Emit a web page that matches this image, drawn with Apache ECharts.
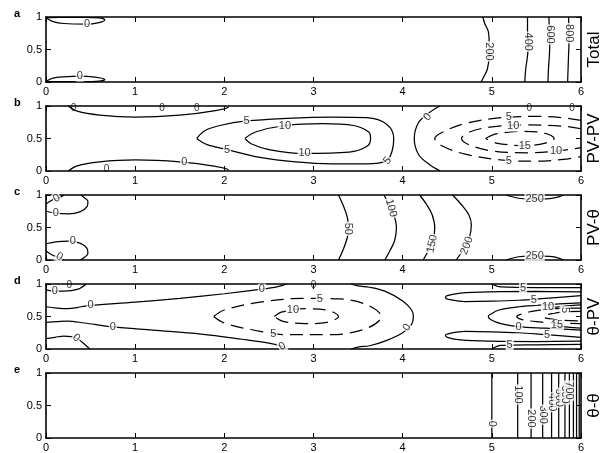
<!DOCTYPE html>
<html><head><meta charset="utf-8">
<script src="https://cdn.jsdelivr.net/npm/echarts@6/dist/echarts.min.js"></script>
<style>html,body{margin:0;padding:0;background:#fff}#c{width:604px;height:453px}</style>
</head><body><div id="c"></div>
<script>
// ---------- axis ticks ----------
const xTicks = [0, 1, 2, 3, 4, 5, 6];
const yTicks = [0, 0.5, 1];
const panelLetters = ['a', 'b', 'c', 'd', 'e'];
const panelNames = ['Total', 'PV-PV', 'PV-θ', 'θ-PV', 'θ-θ'];

// ---------- panel a : Total ----------
const aZeroTop = [[0,0.99],[0.08,0.93],[0.2,0.9],[0.46,0.89],[0.58,0.91],[0.66,0.955],[0.6,0.985],[0.4,0.994],[0.15,0.994],[0,0.99]];
const aZeroBot = [[0,0.01],[0.08,0.06],[0.2,0.08],[0.38,0.09],[0.55,0.075],[0.66,0.04],[0.6,0.015],[0.4,0.006],[0.15,0.006],[0,0.01]];
const a200 = [[4.90,1],[4.92,0.9],[4.96,0.78],[4.97,0.6],[4.97,0.4],[4.95,0.2],[4.91,0.08],[4.88,0]];
const a400 = [[5.40,1],[5.40,0.8],[5.41,0.6],[5.40,0.4],[5.38,0.2],[5.37,0]];
const a600 = [[5.64,1],[5.645,0.8],[5.65,0.6],[5.645,0.4],[5.635,0.2],[5.63,0]];
const a800 = [[5.86,1],[5.865,0.8],[5.865,0.6],[5.86,0.4],[5.855,0.2],[5.85,0]];
const aLabels = [[0.46,0.89,'0',0],[0.38,0.09,'0',0],[4.97,0.47,'200',-90],[5.41,0.62,'400',-90],[5.65,0.73,'600',-90],[5.865,0.75,'800',-90]];
const aEdgeLabels = [];

// ---------- panel b : PV-PV ----------
const bZeroTopL = [[0.25,1],[0.35,0.92],[0.6,0.86],[1.0,0.83],[1.5,0.86],[1.9,0.93],[2.05,0.99],[2.05,1]];
const bZeroBotL = [[0.25,0],[0.35,0.08],[0.6,0.14],[1.0,0.17],[1.5,0.14],[1.9,0.07],[2.05,0.01],[2.05,0]];
const b5 = [[1.69,0.5],[1.78,0.62],[1.95,0.7],[2.25,0.77],[2.7,0.81],[3.2,0.83],[3.6,0.82],[3.82,0.72],[3.9,0.5],[3.88,0.3],[3.82,0.16],[3.6,0.11],[3.2,0.11],[2.8,0.14],[2.4,0.21],[2.03,0.33],[1.8,0.41],[1.69,0.5]];
const b10 = [[2.23,0.5],[2.35,0.6],[2.68,0.7],[3.1,0.73],[3.45,0.7],[3.62,0.6],[3.64,0.5],[3.6,0.38],[3.4,0.29],[2.9,0.27],[2.5,0.33],[2.3,0.42],[2.23,0.5]];
const bZeroMid = [[4.42,1],[4.3,0.9],[4.18,0.75],[4.13,0.5],[4.18,0.25],[4.3,0.1],[4.42,0]];
const bNeg5 = [[6,0.78],[5.8,0.82],[5.5,0.84],[5.1,0.82],[4.7,0.73],[4.45,0.6],[4.36,0.5],[4.45,0.38],[4.7,0.26],[5.1,0.17],[5.5,0.15],[5.8,0.18],[6,0.22]];
const bNeg10 = [[6,0.65],[5.8,0.69],[5.4,0.71],[5.0,0.68],[4.75,0.6],[4.66,0.5],[4.75,0.4],[5.0,0.31],[5.4,0.28],[5.75,0.31],[6,0.36]];
const bNeg15 = [[4.93,0.5],[5.05,0.57],[5.35,0.61],[5.6,0.58],[5.7,0.5],[5.6,0.43],[5.37,0.39],[5.05,0.43],[4.93,0.5]];
const bLabels = [[1.55,0.14,'0',0],[2.25,0.77,'5',0],[2.03,0.33,'5',0],[3.83,0.16,'5',50],[2.68,0.7,'10',0],[2.9,0.27,'10',0],[4.28,0.83,'0',50],[5.19,0.83,'5',0],[5.19,0.16,'5',0],[5.24,0.69,'10',0],[5.72,0.31,'10',0],[5.37,0.39,'15',0]];
const bEdgeLabels = [[0.31,0.97,'0'],[1.3,0.97,'0'],[1.69,0.97,'0'],[0.68,0.03,'0'],[5.42,0.97,'0'],[5.9,0.97,'0']];

// ---------- panel c : PV-theta ----------
const cZeroTL = [[0,0.75],[0.11,0.72],[0.25,0.71],[0.38,0.74],[0.46,0.82],[0.47,0.9],[0.42,0.97],[0.39,1]];
const cZeroTLi = [[0,0.86],[0.08,0.93],[0.15,0.96],[0.2,1]];
const cZeroBL = [[0,0.25],[0.11,0.28],[0.25,0.29],[0.38,0.26],[0.46,0.18],[0.47,0.1],[0.42,0.03],[0.39,0]];
const cZeroBLi = [[0,0.14],[0.08,0.07],[0.15,0.04],[0.2,0]];
const c50 = [[3.28,1],[3.33,0.85],[3.38,0.65],[3.39,0.5],[3.38,0.35],[3.33,0.15],[3.28,0]];
const c100 = [[3.79,1],[3.85,0.85],[3.9,0.7],[3.93,0.5],[3.91,0.3],[3.86,0.15],[3.8,0]];
const c150 = [[4.19,1],[4.27,0.85],[4.33,0.7],[4.36,0.5],[4.34,0.3],[4.29,0.15],[4.23,0]];
const c200 = [[4.56,1],[4.66,0.85],[4.74,0.7],[4.77,0.55],[4.75,0.35],[4.69,0.18],[4.6,0]];
const c250T = [[5.16,1],[5.3,0.95],[5.48,0.935],[5.65,0.945],[5.75,0.97],[5.8,1]];
const c250B = [[5.16,0],[5.3,0.05],[5.48,0.065],[5.65,0.055],[5.75,0.03],[5.8,0]];
const cLabels = [[0.11,0.72,'0',0],[0.12,0.95,'0',30],[0.3,0.29,'0',0],[0.15,0.05,'0',-30],[3.39,0.48,'50',-90],[3.87,0.8,'100',-75],[4.33,0.25,'150',78],[4.72,0.22,'200',70],[5.48,0.935,'250',0],[5.48,0.065,'250',0]];
const cEdgeLabels = [];

// ---------- panel d : theta-PV ----------
const dZeroTL = [[0,0.91],[0.1,0.89],[0.2,0.89],[0.36,0.92],[0.45,1]];
const dZeroUp = [[0,0.65],[0.12,0.63],[0.24,0.62],[0.4,0.65],[0.5,0.67],[1.0,0.72],[1.5,0.78],[2.0,0.85],[2.42,0.92],[2.6,0.96],[2.7,1]];
const dZeroLow = [[0,0.41],[0.12,0.42],[0.24,0.43],[0.43,0.4],[0.75,0.34],[1.2,0.29],[1.74,0.23],[2.2,0.15],[2.5,0.09],[2.65,0.04],[2.7,0]];
const dZeroBL = [[0,0.16],[0.1,0.18],[0.2,0.2],[0.34,0.17],[0.45,0.05],[0.49,0]];
const dZeroMid = [[3.42,1],[3.5,0.97],[3.63,0.95],[3.8,0.89],[4.0,0.74],[4.1,0.6],[4.12,0.5],[4.1,0.38],[4.0,0.25],[3.8,0.12],[3.63,0.05],[3.5,0.03],[3.42,0]];
const dNeg5 = [[1.88,0.5],[2.0,0.6],[2.4,0.72],[2.9,0.78],[3.3,0.77],[3.6,0.68],[3.76,0.5],[3.6,0.32],[3.2,0.22],[2.7,0.22],[2.3,0.3],[2.0,0.4],[1.88,0.5]];
const dNeg10 = [[2.56,0.5],[2.65,0.57],[2.9,0.62],[3.15,0.6],[3.28,0.5],[3.15,0.41],[2.9,0.39],[2.65,0.43],[2.56,0.5]];
const d5Top = [[5.0,1],[5.1,0.955],[5.5,0.945],[6,0.945]];
const d5Bot = [[5.0,0],[5.1,0.055],[5.5,0.065],[6,0.07]];
const d5UpLobe = [[6,0.88],[5.5,0.885],[5.0,0.88],[4.65,0.86],[4.5,0.82],[4.48,0.79],[4.53,0.76],[4.7,0.73],[5.0,0.735],[5.3,0.75],[5.6,0.78],[6,0.82]];
const d5LowLobe = [[6,0.12],[5.5,0.115],[5.0,0.12],[4.65,0.14],[4.5,0.18],[4.48,0.21],[4.53,0.24],[4.7,0.27],[5.0,0.265],[5.3,0.25],[5.6,0.22],[6,0.18]];
const d0Right = [[6,0.71],[5.6,0.68],[5.3,0.65],[5.08,0.6],[4.98,0.53],[4.96,0.5],[4.99,0.45],[5.1,0.39],[5.3,0.345],[5.6,0.32],[6,0.29]];
const dNeg5R = [[6,0.63],[5.7,0.62],[5.45,0.58],[5.3,0.52],[5.28,0.5],[5.32,0.46],[5.5,0.42],[5.75,0.4],[6,0.39]];
const dNeg10R = [[6,0.58],[5.8,0.57],[5.62,0.53],[5.58,0.5],[5.62,0.47],[5.8,0.44],[6,0.43]];
const d10U = [[5.7,0.64],[5.85,0.665],[6,0.68]];
const d10L = [[5.7,0.36],[5.85,0.335],[6,0.32]];
const dLabels = [[0.1,0.89,'0',0],[0.5,0.67,'0',0],[0.75,0.34,'0',0],[0.34,0.17,'0',-40],[2.42,0.92,'0',0],[2.65,0.04,'0',30],[4.05,0.33,'0',55],[3.07,0.77,'5',0],[2.55,0.23,'5',0],[2.77,0.6,'10',0],[5.35,0.945,'5',0],[5.2,0.062,'5',0],[5.47,0.76,'5',0],[5.62,0.22,'5',0],[5.3,0.345,'0',0],[5.63,0.64,'10',0],[5.82,0.6,'5',-90],[5.73,0.37,'15',0]];
const dEdgeLabels = [[0.26,0.98,'0'],[3.0,0.98,'0']];

// ---------- panel e : theta-theta ----------
const eLevels = [0, 100, 200, 300, 400, 500, 600, 700, 800, 900, 1000];
const eX = [5.0, 5.29, 5.44, 5.57, 5.67, 5.75, 5.82, 5.87, 5.915, 5.95, 5.98];
const eLabels = [[5.0,0.22,'0',-90],[5.29,0.67,'100',-90],[5.44,0.3,'200',-90],[5.57,0.36,'300',-90],[5.67,0.55,'400',-90],[5.75,0.62,'500',-90],[5.82,0.67,'600',-90],[5.87,0.73,'700',-90]];
const eEdgeLabels = [];

// ---------- assemble ----------
const panelLines = [
  [[aZeroTop,0],[aZeroBot,0],[a200,0],[a400,0],[a600,0],[a800,0]],
  [[bZeroTopL,0],[bZeroBotL,0],[b5,0],[b10,0],[bZeroMid,0],[bNeg5,1],[bNeg10,1],[bNeg15,1]],
  [[cZeroTL,0],[cZeroTLi,0],[cZeroBL,0],[cZeroBLi,0],[c50,0],[c100,0],[c150,0],[c200,0],[c250T,0],[c250B,0]],
  [[dZeroTL,0],[dZeroUp,0],[dZeroLow,0],[dZeroBL,0],[dZeroMid,0],[dNeg5,1],[dNeg10,1],[d5Top,0],[d5Bot,0],[d5UpLobe,0],[d5LowLobe,0],[d0Right,0],[dNeg5R,1],[dNeg10R,1],[d10U,0],[d10L,0]],
  eLevels.map((lv, i) => [[[eX[i], 0], [eX[i], 1]], 0])
];
const panelLabels = [aLabels, bLabels, cLabels, dLabels, eLabels];
const panelEdge = [aEdgeLabels, bEdgeLabels, cEdgeLabels, dEdgeLabels, eEdgeLabels];

const TOP0 = 17, STEP = 89, H = 65, LEFT = 46, RIGHT = 23;
const FONT = 'Liberation Sans, Arial, sans-serif';
const grids = [], xAxes = [], yAxes = [], series = [], titles = [];
const axisLine = {show: true, onZero: false, lineStyle: {color: '#000', width: 1.6}};
const tick = {show: true, inside: true, length: 5, lineStyle: {color: '#000', width: 1}};

for (let p = 0; p < 5; p++) {
  grids.push({left: LEFT, right: RIGHT, top: TOP0 + p * STEP, height: H, containLabel: false, outerBoundsMode: 'none'});
  const xBase = {type: 'value', gridIndex: p, min: xTicks[0], max: xTicks[xTicks.length - 1], interval: 1,
    axisLine, axisTick: tick, splitLine: {show: false}};
  xAxes.push(Object.assign({}, xBase, {position: 'bottom',
    axisLabel: {show: true, color: '#000', fontSize: 11, fontFamily: FONT, margin: 4}}));
  xAxes.push(Object.assign({}, xBase, {position: 'top', axisLabel: {show: false}}));
  const yBase = {type: 'value', gridIndex: p, min: yTicks[0], max: yTicks[yTicks.length - 1], interval: 0.5,
    axisLine, axisTick: tick, splitLine: {show: false}};
  yAxes.push(Object.assign({}, yBase, {position: 'left',
    axisLabel: {show: true, color: '#000', fontSize: 11, fontFamily: FONT, margin: 4,
      formatter: v => String(yTicks.find(t => Math.abs(t - v) < 1e-6))}}));
  yAxes.push(Object.assign({}, yBase, {position: 'right', axisLabel: {show: false},
    name: panelNames[p], nameLocation: 'middle', nameRotate: 90, nameGap: 5,
    nameTextStyle: {color: '#000', fontSize: 17, fontFamily: FONT, verticalAlign: 'top'}}));
  titles.push({text: panelLetters[p], left: 9, top: TOP0 + p * STEP - 14,
    textStyle: {fontSize: 11, fontWeight: 'bold', color: '#000', fontFamily: FONT}});

  panelLines[p].forEach(([pts, dashed]) => {
    series.push({type: 'line', xAxisIndex: 2 * p, yAxisIndex: 2 * p, data: pts, smooth: 0.35,
      showSymbol: false, symbol: 'none', silent: true, z: 2, clip: true,
      lineStyle: {color: '#000', width: 1.25, type: dashed ? [13, 7] : 'solid'}});
  });
  series.push({type: 'scatter', xAxisIndex: 2 * p, yAxisIndex: 2 * p, symbolSize: 1, silent: true, z: 5,
    itemStyle: {color: 'rgba(0,0,0,0)'},
    data: panelLabels[p].map(([x, y, t, r]) => ({value: [x, y],
      label: {show: true, position: 'inside', formatter: t, rotate: r, color: '#000', fontSize: 11,
        fontFamily: FONT, backgroundColor: '#fff', padding: [0, 1], lineHeight: 11}}))});
  if (panelEdge[p].length) {
    series.push({type: 'scatter', xAxisIndex: 2 * p, yAxisIndex: 2 * p, symbolSize: 1, silent: true, z: 5,
      itemStyle: {color: 'rgba(0,0,0,0)'},
      data: panelEdge[p].map(([x, y, t]) => ({value: [x, y],
        label: {show: true, position: 'inside', formatter: t, color: '#000', fontSize: 10, fontFamily: FONT}}))});
  }
}

const chart = echarts.init(document.getElementById('c'), null, {renderer: 'canvas'});
chart.setOption({animation: false, backgroundColor: '#fff', title: titles, grid: grids,
  xAxis: xAxes, yAxis: yAxes, series});
</script></body></html>
